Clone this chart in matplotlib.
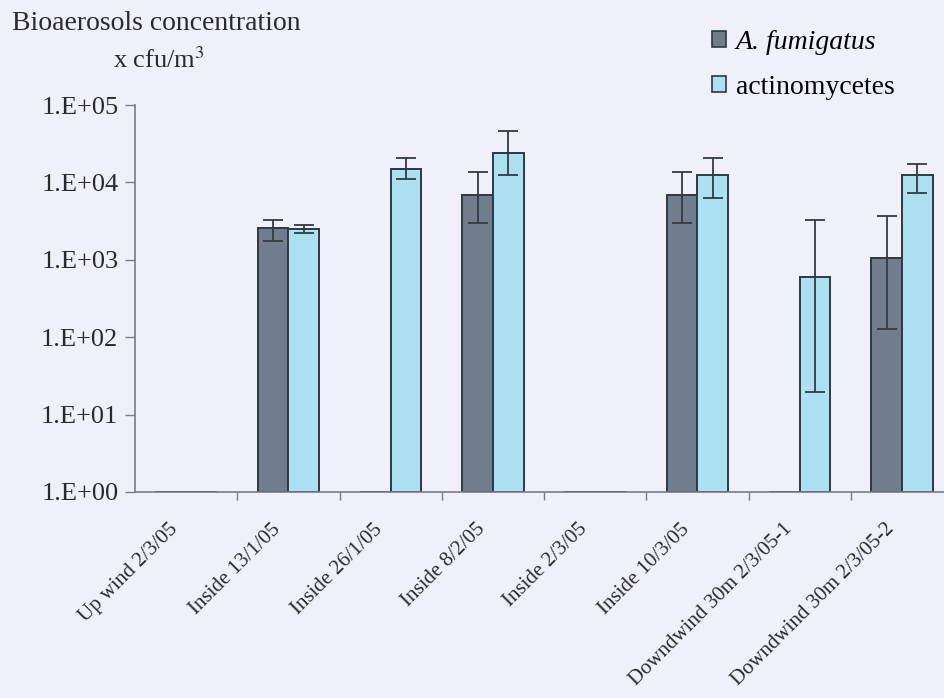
import numpy as np
import matplotlib
matplotlib.use("Agg")
import matplotlib.pyplot as plt
from matplotlib.patches import Patch

plt.rcParams['font.family'] = ['Liberation Serif', 'DejaVu Serif']
plt.rcParams['mathtext.fontset'] = 'stix'

categorias = ["Up wind 2/3/05", "Inside 13/1/05", "Inside 26/1/05", "Inside 8/2/05",
              "Inside 2/3/05", "Inside 10/3/05", "Downdwind 30m 2/3/05-1",
              "Downdwind 30m 2/3/05-2"]

# 1 = no colonies (bar sits on the baseline)
fumigatus = [1, 2570, 1, 6800, 1, 6800, 1, 1070]
fumigatus_lo = [np.nan, 1750, np.nan, 2960, np.nan, 2960, np.nan, 126]
fumigatus_hi = [np.nan, 3240, np.nan, 13500, np.nan, 13500, np.nan, 3650]

actino = [1, 2500, 14700, 24000, 1, 12300, 600, 12300]
actino_lo = [np.nan, 2200, 11200, 12600, np.nan, 6200, 19.6, 7400]
actino_hi = [np.nan, 2800, 20400, 46000, np.nan, 20400, 3240, 17500]

fondo = "#eff0fa"
oscuro = "#717d8c"
claro = "#ade0f0"
borde = "#2c3a44"
texto = "#2a2a2a"

fig = plt.figure(figsize=(9.44, 6.98), dpi=100, facecolor=fondo)
ax = fig.add_axes([135/944, 1-492/698, 818/944, 387/698])
ax.set_facecolor(fondo)

x = np.arange(len(categorias))
w = 0.3

def barras(pos, vals, lo, hi, color):
    vals = np.array(vals, dtype=float)
    ax.bar(pos, vals - 1, bottom=1, width=w, align='edge', color=color,
           edgecolor=borde, linewidth=1.4, zorder=2)
    err = np.array([vals - np.array(lo), np.array(hi) - vals])
    ax.errorbar(pos + w/2, vals, yerr=err, fmt='none', ecolor="#333a40",
                elinewidth=1.3, capsize=7, capthick=1.3, zorder=3)

barras(x - w, fumigatus, fumigatus_lo, fumigatus_hi, oscuro)
barras(x, actino, actino_lo, actino_hi, claro)

ax.set_yscale('log')
ax.set_ylim(1, 1e5)
ax.set_xlim(-0.5, len(categorias) - 0.5)
ax.set_yticks([1, 10, 100, 1e3, 1e4, 1e5])
ax.set_yticklabels(["1.E+00", "1.E+01", "1.E+02", "1.E+03", "1.E+04", "1.E+05"],
                   fontsize=19, color=texto)
ax.yaxis.set_minor_locator(matplotlib.ticker.NullLocator())
ax.tick_params(axis='y', length=7, width=1, color="#777c88", pad=5)

ax.set_xticks(x + 0.5, minor=False)
ax.set_xticklabels([])
ax.set_xticks(x - 0.17, minor=True)
ax.set_xticklabels(categorias, minor=True, rotation=45, ha='right',
                   rotation_mode='anchor', fontsize=15, color=texto)
ax.tick_params(axis='x', which='major', length=6, width=1, color="#777c88")
ax.tick_params(axis='x', which='minor', length=0, pad=20)

for lado in ['top', 'right']:
    ax.spines[lado].set_visible(False)
for lado in ['left', 'bottom']:
    ax.spines[lado].set_color("#777c88")
    ax.spines[lado].set_linewidth(1.2)

fig.text(12/944, 1-23/698, "Bioaerosols concentration", fontsize=20,
         va='center', ha='left', color=texto)
fig.text(113/944, 1-60/698, "x cfu/m$^{3}$", fontsize=19,
         va='center', ha='left', color=texto)

handles = [Patch(facecolor=oscuro, edgecolor=borde, linewidth=1.2),
           Patch(facecolor=claro, edgecolor=borde, linewidth=1.2)]
leg = fig.legend(handles, ["A. fumigatus", "actinomycetes"], loc='upper left',
                 bbox_to_anchor=(687/944, 1-5/698), frameon=False, fontsize=20,
                 handlelength=0.5, handleheight=0.5, handletextpad=0.35,
                 labelspacing=0.72)
leg.get_texts()[0].set_fontstyle('italic')

fig.savefig("out.png", dpi=100, facecolor=fondo)
